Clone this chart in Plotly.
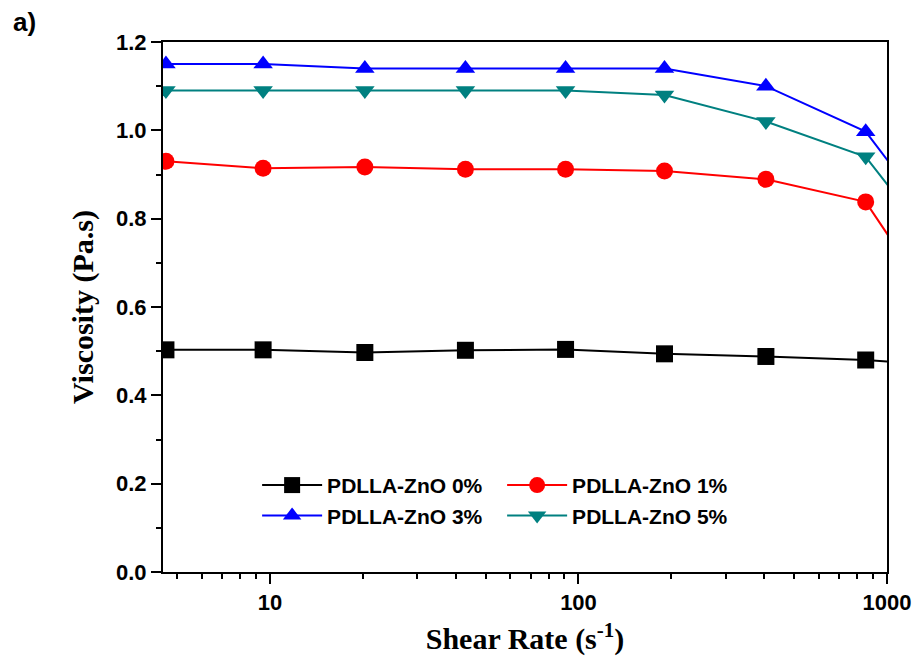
import plotly.graph_objects as go
import math

shear_rate = [4.6, 9.5, 20.3, 43, 90.8, 190, 405, 853, 1800]
visc_0 = [0.503, 0.503, 0.497, 0.502, 0.504, 0.494, 0.488, 0.480, 0.465]
visc_1 = [0.930, 0.914, 0.917, 0.912, 0.912, 0.908, 0.889, 0.838, 0.50]
visc_3 = [1.150, 1.150, 1.140, 1.140, 1.140, 1.140, 1.100, 0.997, 0.70]
visc_5 = [1.090, 1.090, 1.090, 1.090, 1.090, 1.080, 1.020, 0.940, 0.65]

series = [
    ("PDLLA-ZnO 0%", visc_0, "#000000", "square"),
    ("PDLLA-ZnO 1%", visc_1, "#FF0000", "circle"),
    ("PDLLA-ZnO 3%", visc_3, "#0000FF", "triangle-up"),
    ("PDLLA-ZnO 5%", visc_5, "#008080", "triangle-down"),
]

fig = go.Figure()
for name, vals, color, sym in series:
    fig.add_trace(go.Scatter(
        x=shear_rate, y=vals, name=name, mode="lines+markers",
        line=dict(color=color, width=2),
        marker=dict(symbol=sym, size=17, color=color),
    ))

tickfont = dict(family="Liberation Sans, Arial", size=22, color="black", weight="bold")
titlefont = dict(family="Liberation Serif, Times New Roman", size=30, color="black", weight="bold")

fig.update_layout(
    width=922, height=664,
    margin=dict(l=163, r=35, t=42, b=92),
    plot_bgcolor="white", paper_bgcolor="white",
    showlegend=True,
    legend=dict(
        orientation="h", x=0.13, y=0.202, xanchor="left", yanchor="top",
        font=dict(family="Liberation Sans, Arial", size=21, color="black", weight="bold"),
        entrywidth=170, tracegroupgap=0, itemwidth=60,
        bgcolor="rgba(0,0,0,0)",
    ),
    xaxis=dict(
        type="log", range=[math.log10(4.5), 3],
        showline=True, linecolor="black", linewidth=2, mirror=True,
        ticks="outside", ticklen=10, tickwidth=2, tickcolor="black",
        tickvals=[10, 100, 1000], ticktext=["10", "100", "1000"],
        tickfont=tickfont, showgrid=False, zeroline=False,
        minor=dict(ticks="outside", ticklen=5, tickwidth=2, tickcolor="black",
                   tickvals=[5, 6, 7, 8, 9, 20, 30, 40, 50, 60, 70, 80, 90,
                             200, 300, 400, 500, 600, 700, 800, 900],
                   showgrid=False),
        title=dict(text="Shear Rate (s<sup>-1</sup>)", font=titlefont, standoff=14),
    ),
    yaxis=dict(
        range=[0, 1.2],
        showline=True, linecolor="black", linewidth=2, mirror=True,
        ticks="outside", ticklen=10, tickwidth=2, tickcolor="black",
        tickvals=[0, 0.2, 0.4, 0.6, 0.8, 1.0, 1.2],
        ticktext=["0.0", "0.2", "0.4", "0.6", "0.8", "1.0", "1.2"],
        tickfont=tickfont, showgrid=False, zeroline=False,
        minor=dict(ticks="outside", ticklen=5, tickwidth=2, tickcolor="black",
                   dtick=0.1, showgrid=False),
        title=dict(text="Viscosity (Pa.s)", font=titlefont, standoff=14),
    ),
    annotations=[dict(
        text="a)", x=-0.21, y=1.07, xref="paper", yref="paper",
        xanchor="left", yanchor="top", showarrow=False,
        font=dict(family="Liberation Sans, Arial", size=26, color="black", weight="bold"),
    )],
)

fig.write_html("out.html")
